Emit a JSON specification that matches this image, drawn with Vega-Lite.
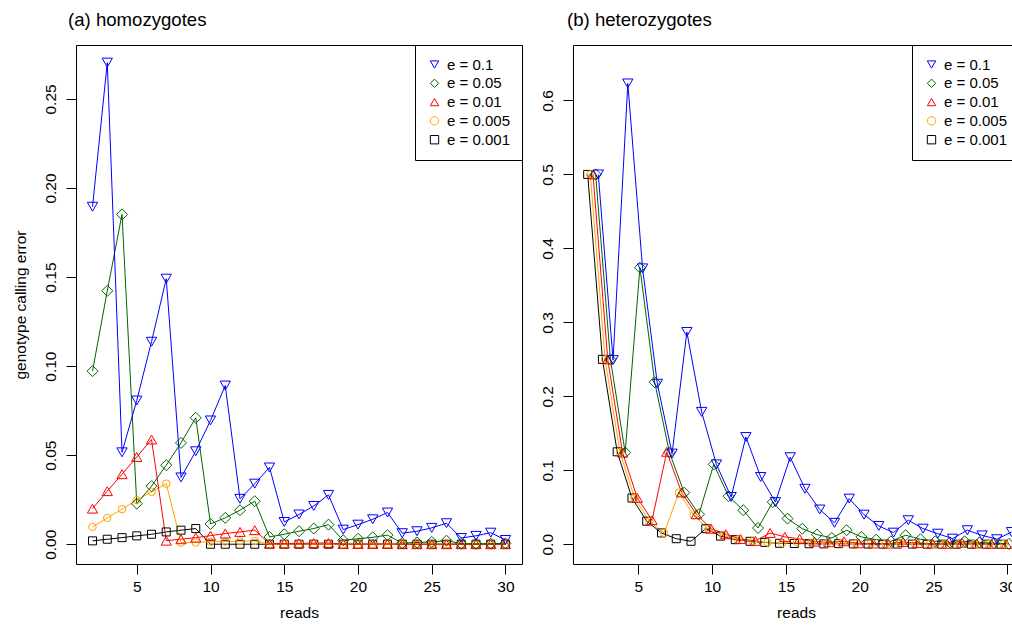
{
"$schema": "https://vega.github.io/schema/vega-lite/v6.json",
"padding": {"left": 12, "top": 10, "right": 0, "bottom": 0},
"spacing": 16,
"resolve": {"scale": {"color": "independent", "shape": "independent", "size": "independent", "stroke": "independent"}, "legend": {"color": "independent", "shape": "independent", "size": "independent", "stroke": "independent"}},
"config": {
 "font": "Liberation Sans",
 "view": {"stroke": "black", "strokeWidth": 1},
 "axis": {"grid": false, "domain": false, "tickColor": "black", "tickSize": 10, "tickWidth": 1, "labelColor": "black", "labelFontSize": 15.5, "titleFontSize": 15.5, "titleFontWeight": "normal", "titleColor": "black", "labelFlush": false, "labelOverlap": false},
 "legend": {"orient": "top-right", "offset": 0, "padding": 12, "strokeColor": "black", "fillColor": "white", "labelFontSize": 15, "labelColor": "black", "rowPadding": 2.8, "labelOffset": 5, "symbolSize": 70, "symbolStrokeWidth": 1, "cornerRadius": 0},
 "title": {"anchor": "start", "frame": "group", "fontSize": 18.6, "fontWeight": "normal", "color": "black", "offset": 15}
},
"datasets": {
"homo": [
{"e":"e = 0.001","reads":2,"err":0.0019},{"e":"e = 0.001","reads":3,"err":0.0028},{"e":"e = 0.001","reads":4,"err":0.0037},{"e":"e = 0.001","reads":5,"err":0.0047},{"e":"e = 0.001","reads":6,"err":0.0056},{"e":"e = 0.001","reads":7,"err":0.0069},{"e":"e = 0.001","reads":8,"err":0.0079},{"e":"e = 0.001","reads":9,"err":0.0088},{"e":"e = 0.001","reads":10,"err":0},{"e":"e = 0.001","reads":11,"err":0},{"e":"e = 0.001","reads":12,"err":0},{"e":"e = 0.001","reads":13,"err":0},{"e":"e = 0.001","reads":14,"err":0},{"e":"e = 0.001","reads":15,"err":0},{"e":"e = 0.001","reads":16,"err":0},{"e":"e = 0.001","reads":17,"err":0},{"e":"e = 0.001","reads":18,"err":0},{"e":"e = 0.001","reads":19,"err":0},{"e":"e = 0.001","reads":20,"err":0},{"e":"e = 0.001","reads":21,"err":0},{"e":"e = 0.001","reads":22,"err":0},{"e":"e = 0.001","reads":23,"err":0},{"e":"e = 0.001","reads":24,"err":0},{"e":"e = 0.001","reads":25,"err":0},{"e":"e = 0.001","reads":26,"err":0},{"e":"e = 0.001","reads":27,"err":0},{"e":"e = 0.001","reads":28,"err":0},{"e":"e = 0.001","reads":29,"err":0},{"e":"e = 0.001","reads":30,"err":0},
{"e":"e = 0.005","reads":2,"err":0.0097},{"e":"e = 0.005","reads":3,"err":0.0148},{"e":"e = 0.005","reads":4,"err":0.0197},{"e":"e = 0.005","reads":5,"err":0.0247},{"e":"e = 0.005","reads":6,"err":0.0294},{"e":"e = 0.005","reads":7,"err":0.034},{"e":"e = 0.005","reads":8,"err":0.0009},{"e":"e = 0.005","reads":9,"err":0.001},{"e":"e = 0.005","reads":10,"err":0.0014},{"e":"e = 0.005","reads":11,"err":0.0015},{"e":"e = 0.005","reads":12,"err":0.0017},{"e":"e = 0.005","reads":13,"err":0.0018},{"e":"e = 0.005","reads":14,"err":0.0001},{"e":"e = 0.005","reads":15,"err":0.0001},{"e":"e = 0.005","reads":16,"err":0.0001},{"e":"e = 0.005","reads":17,"err":0.0001},{"e":"e = 0.005","reads":18,"err":0.0001},{"e":"e = 0.005","reads":19,"err":0},{"e":"e = 0.005","reads":20,"err":0},{"e":"e = 0.005","reads":21,"err":0},{"e":"e = 0.005","reads":22,"err":0},{"e":"e = 0.005","reads":23,"err":0},{"e":"e = 0.005","reads":24,"err":0},{"e":"e = 0.005","reads":25,"err":0},{"e":"e = 0.005","reads":26,"err":0},{"e":"e = 0.005","reads":27,"err":0},{"e":"e = 0.005","reads":28,"err":0},{"e":"e = 0.005","reads":29,"err":0},{"e":"e = 0.005","reads":30,"err":0},
{"e":"e = 0.01","reads":2,"err":0.02},{"e":"e = 0.01","reads":3,"err":0.0298},{"e":"e = 0.01","reads":4,"err":0.0393},{"e":"e = 0.01","reads":5,"err":0.049},{"e":"e = 0.01","reads":6,"err":0.0588},{"e":"e = 0.01","reads":7,"err":0.002},{"e":"e = 0.01","reads":8,"err":0.0028},{"e":"e = 0.01","reads":9,"err":0.0037},{"e":"e = 0.01","reads":10,"err":0.0048},{"e":"e = 0.01","reads":11,"err":0.006},{"e":"e = 0.01","reads":12,"err":0.0069},{"e":"e = 0.01","reads":13,"err":0.0079},{"e":"e = 0.01","reads":14,"err":0.0003},{"e":"e = 0.01","reads":15,"err":0.0004},{"e":"e = 0.01","reads":16,"err":0.0005},{"e":"e = 0.01","reads":17,"err":0.0006},{"e":"e = 0.01","reads":18,"err":0.0007},{"e":"e = 0.01","reads":19,"err":0.0001},{"e":"e = 0.01","reads":20,"err":0.0001},{"e":"e = 0.01","reads":21,"err":0.0001},{"e":"e = 0.01","reads":22,"err":0.0002},{"e":"e = 0.01","reads":23,"err":0},{"e":"e = 0.01","reads":24,"err":0},{"e":"e = 0.01","reads":25,"err":0},{"e":"e = 0.01","reads":26,"err":0},{"e":"e = 0.01","reads":27,"err":0},{"e":"e = 0.01","reads":28,"err":0},{"e":"e = 0.01","reads":29,"err":0},{"e":"e = 0.01","reads":30,"err":0},
{"e":"e = 0.05","reads":2,"err":0.0972},{"e":"e = 0.05","reads":3,"err":0.1423},{"e":"e = 0.05","reads":4,"err":0.1852},{"e":"e = 0.05","reads":5,"err":0.0228},{"e":"e = 0.05","reads":6,"err":0.0326},{"e":"e = 0.05","reads":7,"err":0.0444},{"e":"e = 0.05","reads":8,"err":0.0569},{"e":"e = 0.05","reads":9,"err":0.071},{"e":"e = 0.05","reads":10,"err":0.0114},{"e":"e = 0.05","reads":11,"err":0.0148},{"e":"e = 0.05","reads":12,"err":0.0191},{"e":"e = 0.05","reads":13,"err":0.0242},{"e":"e = 0.05","reads":14,"err":0.0041},{"e":"e = 0.05","reads":15,"err":0.0056},{"e":"e = 0.05","reads":16,"err":0.0073},{"e":"e = 0.05","reads":17,"err":0.0088},{"e":"e = 0.05","reads":18,"err":0.011},{"e":"e = 0.05","reads":19,"err":0.0022},{"e":"e = 0.05","reads":20,"err":0.0031},{"e":"e = 0.05","reads":21,"err":0.0039},{"e":"e = 0.05","reads":22,"err":0.0051},{"e":"e = 0.05","reads":23,"err":0.0006},{"e":"e = 0.05","reads":24,"err":0.001},{"e":"e = 0.05","reads":25,"err":0.0013},{"e":"e = 0.05","reads":26,"err":0.002},{"e":"e = 0.05","reads":27,"err":0.0003},{"e":"e = 0.05","reads":28,"err":0.0002},{"e":"e = 0.05","reads":29,"err":0.0003},{"e":"e = 0.05","reads":30,"err":0.0005},
{"e":"e = 0.1","reads":2,"err":0.1895},{"e":"e = 0.1","reads":3,"err":0.2704},{"e":"e = 0.1","reads":4,"err":0.0516},{"e":"e = 0.1","reads":5,"err":0.0807},{"e":"e = 0.1","reads":6,"err":0.1137},{"e":"e = 0.1","reads":7,"err":0.1491},{"e":"e = 0.1","reads":8,"err":0.0375},{"e":"e = 0.1","reads":9,"err":0.0522},{"e":"e = 0.1","reads":10,"err":0.0695},{"e":"e = 0.1","reads":11,"err":0.0891},{"e":"e = 0.1","reads":12,"err":0.0255},{"e":"e = 0.1","reads":13,"err":0.034},{"e":"e = 0.1","reads":14,"err":0.0431},{"e":"e = 0.1","reads":15,"err":0.0125},{"e":"e = 0.1","reads":16,"err":0.0167},{"e":"e = 0.1","reads":17,"err":0.0215},{"e":"e = 0.1","reads":18,"err":0.0277},{"e":"e = 0.1","reads":19,"err":0.0082},{"e":"e = 0.1","reads":20,"err":0.011},{"e":"e = 0.1","reads":21,"err":0.014},{"e":"e = 0.1","reads":22,"err":0.0178},{"e":"e = 0.1","reads":23,"err":0.0062},{"e":"e = 0.1","reads":24,"err":0.0073},{"e":"e = 0.1","reads":25,"err":0.0092},{"e":"e = 0.1","reads":26,"err":0.0118},{"e":"e = 0.1","reads":27,"err":0.0035},{"e":"e = 0.1","reads":28,"err":0.0047},{"e":"e = 0.1","reads":29,"err":0.0065},{"e":"e = 0.1","reads":30,"err":0.0024}
],
"het": [
{"e":"e = 0.001","reads":1.57,"err":0.5},{"e":"e = 0.001","reads":2.57,"err":0.25},{"e":"e = 0.001","reads":3.57,"err":0.125},{"e":"e = 0.001","reads":4.57,"err":0.0625},{"e":"e = 0.001","reads":5.57,"err":0.0312},{"e":"e = 0.001","reads":6.57,"err":0.0153},{"e":"e = 0.001","reads":7.57,"err":0.0075},{"e":"e = 0.001","reads":8.57,"err":0.004},{"e":"e = 0.001","reads":9.57,"err":0.021},{"e":"e = 0.001","reads":10.57,"err":0.011},{"e":"e = 0.001","reads":11.57,"err":0.0062},{"e":"e = 0.001","reads":12.57,"err":0.004},{"e":"e = 0.001","reads":13.57,"err":0.0025},{"e":"e = 0.001","reads":14.57,"err":0.0013},{"e":"e = 0.001","reads":15.57,"err":0.001},{"e":"e = 0.001","reads":16.57,"err":0.0007},{"e":"e = 0.001","reads":17.57,"err":0.0005},{"e":"e = 0.001","reads":18.57,"err":0.0008},{"e":"e = 0.001","reads":19.57,"err":0.0005},{"e":"e = 0.001","reads":20.57,"err":0.0003},{"e":"e = 0.001","reads":21.57,"err":0.0002},{"e":"e = 0.001","reads":22.57,"err":0.0003},{"e":"e = 0.001","reads":23.57,"err":0.0002},{"e":"e = 0.001","reads":24.57,"err":0.0001},{"e":"e = 0.001","reads":25.57,"err":0.0001},{"e":"e = 0.001","reads":26.57,"err":0.0001},{"e":"e = 0.001","reads":27.57,"err":0.0001},{"e":"e = 0.001","reads":28.57,"err":0.0001},{"e":"e = 0.001","reads":29.57,"err":0.0001},
{"e":"e = 0.005","reads":1.75,"err":0.5},{"e":"e = 0.005","reads":2.75,"err":0.25},{"e":"e = 0.005","reads":3.75,"err":0.125},{"e":"e = 0.005","reads":4.75,"err":0.0625},{"e":"e = 0.005","reads":5.75,"err":0.031},{"e":"e = 0.005","reads":6.75,"err":0.0153},{"e":"e = 0.005","reads":7.75,"err":0.0698},{"e":"e = 0.005","reads":8.75,"err":0.039},{"e":"e = 0.005","reads":9.75,"err":0.0205},{"e":"e = 0.005","reads":10.75,"err":0.012},{"e":"e = 0.005","reads":11.75,"err":0.0065},{"e":"e = 0.005","reads":12.75,"err":0.004},{"e":"e = 0.005","reads":13.75,"err":0.0025},{"e":"e = 0.005","reads":14.75,"err":0.0015},{"e":"e = 0.005","reads":15.75,"err":0.003},{"e":"e = 0.005","reads":16.75,"err":0.002},{"e":"e = 0.005","reads":17.75,"err":0.0012},{"e":"e = 0.005","reads":18.75,"err":0.0015},{"e":"e = 0.005","reads":19.75,"err":0.001},{"e":"e = 0.005","reads":20.75,"err":0.0008},{"e":"e = 0.005","reads":21.75,"err":0.0006},{"e":"e = 0.005","reads":22.75,"err":0.0008},{"e":"e = 0.005","reads":23.75,"err":0.0005},{"e":"e = 0.005","reads":24.75,"err":0.0004},{"e":"e = 0.005","reads":25.75,"err":0.0003},{"e":"e = 0.005","reads":26.75,"err":0.0004},{"e":"e = 0.005","reads":27.75,"err":0.0003},{"e":"e = 0.005","reads":28.75,"err":0.0002},{"e":"e = 0.005","reads":29.75,"err":0.0002},
{"e":"e = 0.01","reads":1.93,"err":0.5},{"e":"e = 0.01","reads":2.93,"err":0.25},{"e":"e = 0.01","reads":3.93,"err":0.124},{"e":"e = 0.01","reads":4.93,"err":0.0627},{"e":"e = 0.01","reads":5.93,"err":0.0325},{"e":"e = 0.01","reads":6.93,"err":0.125},{"e":"e = 0.01","reads":7.93,"err":0.07},{"e":"e = 0.01","reads":8.93,"err":0.0406},{"e":"e = 0.01","reads":9.93,"err":0.021},{"e":"e = 0.01","reads":10.93,"err":0.0135},{"e":"e = 0.01","reads":11.93,"err":0.007},{"e":"e = 0.01","reads":12.93,"err":0.0045},{"e":"e = 0.01","reads":13.93,"err":0.0153},{"e":"e = 0.01","reads":14.93,"err":0.0099},{"e":"e = 0.01","reads":15.93,"err":0.0072},{"e":"e = 0.01","reads":16.93,"err":0.0036},{"e":"e = 0.01","reads":17.93,"err":0.0027},{"e":"e = 0.01","reads":18.93,"err":0.004},{"e":"e = 0.01","reads":19.93,"err":0.0013},{"e":"e = 0.01","reads":20.93,"err":0.001},{"e":"e = 0.01","reads":21.93,"err":0.0008},{"e":"e = 0.01","reads":22.93,"err":0.003},{"e":"e = 0.01","reads":23.93,"err":0.0015},{"e":"e = 0.01","reads":24.93,"err":0.001},{"e":"e = 0.01","reads":25.93,"err":0.0005},{"e":"e = 0.01","reads":26.93,"err":0.002},{"e":"e = 0.01","reads":27.93,"err":0.001},{"e":"e = 0.01","reads":28.93,"err":0.0005},{"e":"e = 0.01","reads":29.93,"err":0.0003},
{"e":"e = 0.05","reads":2.11,"err":0.5},{"e":"e = 0.05","reads":3.11,"err":0.25},{"e":"e = 0.05","reads":4.11,"err":0.124},{"e":"e = 0.05","reads":5.11,"err":0.374},{"e":"e = 0.05","reads":6.11,"err":0.219},{"e":"e = 0.05","reads":7.11,"err":0.124},{"e":"e = 0.05","reads":8.11,"err":0.0698},{"e":"e = 0.05","reads":9.11,"err":0.0406},{"e":"e = 0.05","reads":10.11,"err":0.108},{"e":"e = 0.05","reads":11.11,"err":0.065},{"e":"e = 0.05","reads":12.11,"err":0.046},{"e":"e = 0.05","reads":13.11,"err":0.022},{"e":"e = 0.05","reads":14.11,"err":0.057},{"e":"e = 0.05","reads":15.11,"err":0.0347},{"e":"e = 0.05","reads":16.11,"err":0.021},{"e":"e = 0.05","reads":17.11,"err":0.013},{"e":"e = 0.05","reads":18.11,"err":0.0085},{"e":"e = 0.05","reads":19.11,"err":0.019},{"e":"e = 0.05","reads":20.11,"err":0.0099},{"e":"e = 0.05","reads":21.11,"err":0.0062},{"e":"e = 0.05","reads":22.11,"err":0.004},{"e":"e = 0.05","reads":23.11,"err":0.0122},{"e":"e = 0.05","reads":24.11,"err":0.0068},{"e":"e = 0.05","reads":25.11,"err":0.004},{"e":"e = 0.05","reads":26.11,"err":0.0025},{"e":"e = 0.05","reads":27.11,"err":0.004},{"e":"e = 0.05","reads":28.11,"err":0.0025},{"e":"e = 0.05","reads":29.11,"err":0.0015},{"e":"e = 0.05","reads":30.11,"err":0.0005},
{"e":"e = 0.1","reads":2.29,"err":0.5},{"e":"e = 0.1","reads":3.29,"err":0.249},{"e":"e = 0.1","reads":4.29,"err":0.623},{"e":"e = 0.1","reads":5.29,"err":0.373},{"e":"e = 0.1","reads":6.29,"err":0.217},{"e":"e = 0.1","reads":7.29,"err":0.1226},{"e":"e = 0.1","reads":8.29,"err":0.287},{"e":"e = 0.1","reads":9.29,"err":0.179},{"e":"e = 0.1","reads":10.29,"err":0.108},{"e":"e = 0.1","reads":11.29,"err":0.064},{"e":"e = 0.1","reads":12.29,"err":0.145},{"e":"e = 0.1","reads":13.29,"err":0.091},{"e":"e = 0.1","reads":14.29,"err":0.057},{"e":"e = 0.1","reads":15.29,"err":0.1177},{"e":"e = 0.1","reads":16.29,"err":0.075},{"e":"e = 0.1","reads":17.29,"err":0.047},{"e":"e = 0.1","reads":18.29,"err":0.029},{"e":"e = 0.1","reads":19.29,"err":0.0617},{"e":"e = 0.1","reads":20.29,"err":0.04},{"e":"e = 0.1","reads":21.29,"err":0.0248},{"e":"e = 0.1","reads":22.29,"err":0.0157},{"e":"e = 0.1","reads":23.29,"err":0.0325},{"e":"e = 0.1","reads":24.29,"err":0.0211},{"e":"e = 0.1","reads":25.29,"err":0.0143},{"e":"e = 0.1","reads":26.29,"err":0.0076},{"e":"e = 0.1","reads":27.29,"err":0.019},{"e":"e = 0.1","reads":28.29,"err":0.012},{"e":"e = 0.1","reads":29.29,"err":0.0068},{"e":"e = 0.1","reads":30.29,"err":0.0166}
]
},
"hconcat": [
{
 "width": 446, "height": 519,
 "title": {"text": "(a) homozygotes", "dx": -8},
 "data": {"name": "homo"},
 "encoding": {
  "x": {"field": "reads", "type": "quantitative", "scale": {"domain": [0.88, 31.12], "nice": false, "zero": false}, "axis": {"values": [5,10,15,20,25,30], "format": "d", "title": "reads", "labelPadding": 5, "titlePadding": 11}},
  "y": {"field": "err", "type": "quantitative", "scale": {"domain": [-0.0111, 0.2803], "nice": false, "zero": false}, "axis": {"values": [0,0.05,0.1,0.15,0.2,0.25], "format": ".2f", "labelAngle": 270, "labelAlign": "center", "labelBaseline": "bottom", "labelPadding": 8, "title": "genotype calling error", "titlePadding": 15}}
 },
 "layer": [
  {"mark": {"type": "line", "strokeWidth": 1, "clip": true},
   "encoding": {"stroke": {"field": "e", "type": "nominal", "scale": {"domain": ["e = 0.001","e = 0.005","e = 0.01","e = 0.05","e = 0.1"], "range": ["#000000","#FFA500","#FF0000","#006400","#0000FF"]}, "legend": null}}},
  {"mark": {"type": "point", "filled": false, "strokeWidth": 1, "opacity": 1, "clip": true},
   "encoding": {
    "color": {"field": "e", "type": "nominal", "scale": {"domain": ["e = 0.1","e = 0.05","e = 0.01","e = 0.005","e = 0.001"], "range": ["#0000FF","#006400","#FF0000","#FFA500","#000000"]}, "legend": {"title": null, "orient": "top-right", "offset": 0}},
    "shape": {"field": "e", "type": "nominal", "scale": {"domain": ["e = 0.1","e = 0.05","e = 0.01","e = 0.005","e = 0.001"], "range": ["triangle-down","diamond","triangle-up","circle","square"]}, "legend": {"title": null, "orient": "top-right", "offset": 0}},
    "size": {"field": "e", "type": "nominal", "scale": {"type": "ordinal", "domain": ["e = 0.005","e = 0.001","e = 0.01","e = 0.05","e = 0.1"], "range": [56,64,106,121,106]}, "legend": null}
   }}
 ]
},
{
 "width": 446, "height": 519,
 "title": {"text": "(b) heterozygotes", "dx": -6},
 "data": {"name": "het"},
 "encoding": {
  "x": {"field": "reads", "type": "quantitative", "scale": {"domain": [0.576, 30.79], "nice": false, "zero": false}, "axis": {"values": [5,10,15,20,25,30], "format": "d", "title": "reads", "labelPadding": 5, "titlePadding": 11}},
  "y": {"field": "err", "type": "quantitative", "scale": {"domain": [-0.0267, 0.675], "nice": false, "zero": false}, "axis": {"values": [0,0.1,0.2,0.3,0.4,0.5,0.6], "format": ".1f", "labelAngle": 270, "labelAlign": "center", "labelBaseline": "bottom", "labelPadding": 8, "title": null}}
 },
 "layer": [
  {"mark": {"type": "line", "strokeWidth": 1, "clip": true},
   "encoding": {"stroke": {"field": "e", "type": "nominal", "scale": {"domain": ["e = 0.001","e = 0.005","e = 0.01","e = 0.05","e = 0.1"], "range": ["#000000","#FFA500","#FF0000","#006400","#0000FF"]}, "legend": null}}},
  {"mark": {"type": "point", "filled": false, "strokeWidth": 1, "opacity": 1, "clip": true},
   "encoding": {
    "color": {"field": "e", "type": "nominal", "scale": {"domain": ["e = 0.1","e = 0.05","e = 0.01","e = 0.005","e = 0.001"], "range": ["#0000FF","#006400","#FF0000","#FFA500","#000000"]}, "legend": {"title": null, "orient": "top-right", "offset": 0}},
    "shape": {"field": "e", "type": "nominal", "scale": {"domain": ["e = 0.1","e = 0.05","e = 0.01","e = 0.005","e = 0.001"], "range": ["triangle-down","diamond","triangle-up","circle","square"]}, "legend": {"title": null, "orient": "top-right", "offset": 0}},
    "size": {"field": "e", "type": "nominal", "scale": {"type": "ordinal", "domain": ["e = 0.005","e = 0.001","e = 0.01","e = 0.05","e = 0.1"], "range": [56,64,106,121,106]}, "legend": null}
   }}
 ]
}
]
}
